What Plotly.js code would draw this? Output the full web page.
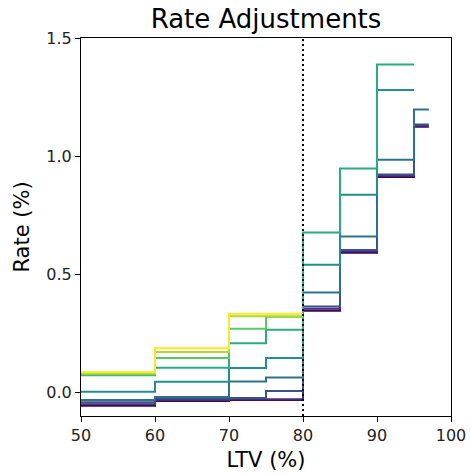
<!DOCTYPE html>
<html>
<head>
<meta charset="utf-8">
<script src="https://cdn.plot.ly/plotly-3.0.1.min.js"></script>
<style>html,body{margin:0;padding:0;background:#fff;}#chart{width:470px;height:475px;}</style>
</head>
<body>
<div id="chart"></div>
<script>
// LTV bucket edges (%)
const ltvEdges = [50, 60, 70, 75, 80, 85, 90, 95, 97];

// Rate adjustment (%) per LTV bucket, one array per series (viridis order: purple -> yellow)
const series0 = [-0.057, -0.037, -0.032, -0.032, 0.346, 0.591, 0.912, 1.124];
const series1 = [-0.050, -0.032, -0.029, -0.029, 0.354, 0.597, 0.917, 1.129];
const series2 = [-0.042, -0.026, -0.024, 0.006, 0.363, 0.603, 0.922, 1.134];
const series3 = [-0.032, -0.020, 0.046, 0.063, 0.423, 0.660, 0.985, 1.197];
const series4 = [0.003, 0.045, 0.103, 0.145, 0.540, 0.837, 1.280];
const series5 = [0.072, 0.104, 0.208, 0.265, 0.677, 0.948, 1.388];
const series6 = [0.076, 0.145, 0.269, 0.320];
const series7 = [0.080, 0.171, 0.322, 0.322];
const series8 = [0.085, 0.187, 0.333, 0.333];

const allSeries = [series0, series1, series2, series3, series4, series5, series6, series7, series8];
const colors = ['#440154', '#472c7a', '#3b518b', '#2c718e', '#21908d', '#27ad81', '#5cc863', '#aadc32', '#fde725'];

const cutoff = 80;

const traces = allSeries.map((vals, i) => {
  const x = ltvEdges.slice(0, vals.length + 1);
  const y = vals.concat([vals[vals.length - 1]]);
  return {
    type: 'scatter', mode: 'lines', x: x, y: y,
    line: {shape: 'hv', color: colors[i], width: 2},
    showlegend: false, hoverinfo: 'skip'
  };
});

const axisCommon = {
  showgrid: false, zeroline: false,
  showline: true, linecolor: '#000', linewidth: 1, mirror: true,
  ticks: 'outside', ticklen: 5, tickwidth: 1, tickcolor: '#000',
  tickfont: {family: 'DejaVu Sans', size: 16, color: '#222'}
};

const layout = {
  width: 470, height: 475,
  margin: {l: 81, r: 19, t: 38, b: 59},
  paper_bgcolor: '#fff', plot_bgcolor: '#fff',
  title: {text: 'Rate Adjustments', font: {family: 'DejaVu Sans', size: 26, color: '#000'},
          x: 0.566, xanchor: 'center', y: 0.98, yanchor: 'top'},
  xaxis: Object.assign({}, axisCommon, {
    range: [50, 100], tickvals: [50, 60, 70, 80, 90, 100],
    title: {text: 'LTV (%)', font: {family: 'DejaVu Sans', size: 21, color: '#000'}, standoff: 8}
  }),
  yaxis: Object.assign({}, axisCommon, {
    range: [-0.1, 1.5], tickvals: [0, 0.5, 1.0, 1.5], ticktext: ['0.0', '0.5', '1.0', '1.5'],
    title: {text: 'Rate (%)', font: {family: 'DejaVu Sans', size: 21, color: '#000'}, standoff: 10}
  }),
  shapes: [{
    type: 'line', xref: 'x', yref: 'paper', x0: cutoff, x1: cutoff, y0: 0, y1: 1,
    line: {color: '#000', width: 2, dash: '2px,3px'}, layer: 'above'
  }]
};

Plotly.newPlot('chart', traces, layout, {displayModeBar: false, staticPlot: true});
</script>
</body>
</html>
